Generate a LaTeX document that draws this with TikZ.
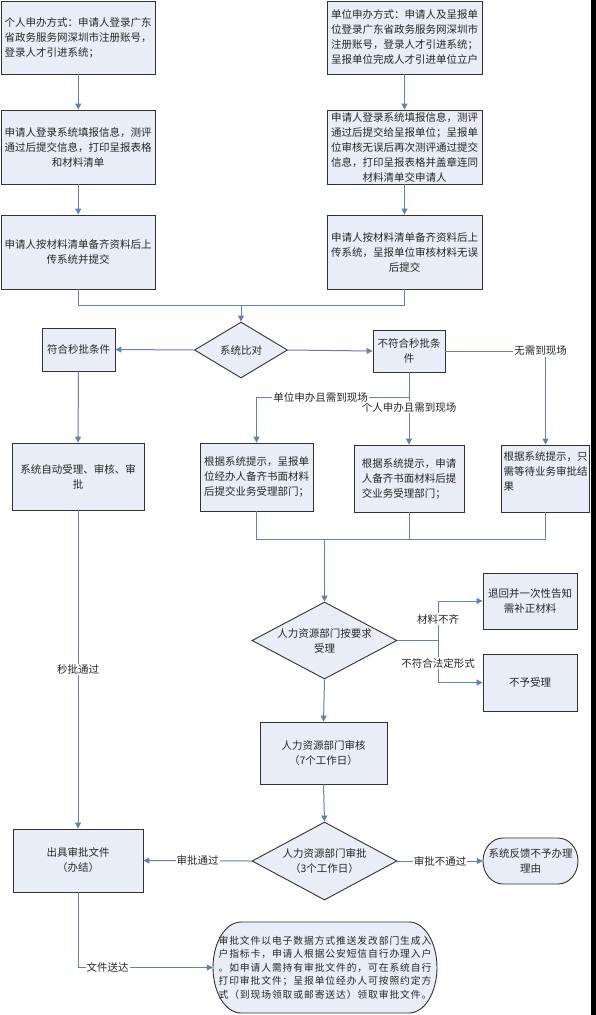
\documentclass[tikz,border=0pt]{standalone}
\usepackage{fontspec}
\setmainfont{Noto Sans CJK SC}
\newfontfamily\cjkwide[LetterSpace=9]{Noto Sans CJK SC}
\usetikzlibrary{arrows.meta,shapes.geometric}
\definecolor{boxfill}{RGB}{233,237,247}
\definecolor{linecol}{RGB}{96,130,176}
\definecolor{bordercol}{RGB}{50,50,50}
\tikzset{
  txt/.style={font=\fontsize{10.5}{15}\selectfont, text=black!85},
  bx/.style 2 args={draw=bordercol, fill=boxfill, line width=0.9pt, inner sep=2pt, txt,
     minimum width=#1, minimum height=#2, align=center},
  dia/.style n args={3}{diamond, draw=bordercol, fill=boxfill, line width=0.9pt, inner sep=0pt, txt,
     minimum width=#1, minimum height=#2, shape aspect=#3, align=center},
  ln/.style={draw=linecol, line width=1pt},
  arr/.style={ln, -{Triangle[width=6pt,length=6pt]}},
  lab/.style={fill=white, inner sep=1pt, txt},
  stad/.style={draw=bordercol, fill=boxfill, line width=0.9pt}
}
\begin{document}
\begin{tikzpicture}[x=1pt,y=-1pt]
\fill[white] (0,0) rectangle (596,1015);
\useasboundingbox (0,0) rectangle (596,1015);
\fill[black] (591,0) rectangle (596,1015);

% left column
\node[bx={153.5pt}{73pt}, align=left] (A1) at (78.25,37.5) {个人申办方式：申请人登录广东\\省政务服务网深圳市注册账号，\\登录人才引进系统；};
\node[bx={153.5pt}{74pt}] (A2) at (78.25,147) {申请人登录系统填报信息，测评\\通过后提交信息，打印呈报表格\\和材料清单};
\node[bx={153.5pt}{74pt}] (A3) at (78.25,252) {申请人按材料清单备齐资料后上\\传系统并提交};

% right column
\node[bx={155pt}{73pt}] (B1) at (404.5,37.5) {单位申办方式：申请人及呈报单\\位登录广东省政务服务网深圳市\\注册账号，登录人才引进系统；\\呈报单位完成人才引进单位立户};
\node[bx={155pt}{74pt}] (B2) at (404.5,147) {申请人登录系统填报信息，测评\\通过后提交给呈报单位；呈报单\\位审核无误后再次测评通过提交\\信息，打印呈报表格并盖章连同\\材料清单交申请人};
\node[bx={155pt}{74pt}] (B3) at (404.5,252) {申请人按材料清单备齐资料后上\\传系统，呈报单位审核材料无误\\后提交};

\coordinate (J0) at (241,305);

\node[dia={93pt}{56pt}{1.66}] (D0) at (241,350) {系统比对};
\node[bx={73pt}{43pt}] (C1) at (78.5,349.5) {符合秒批条件};
\node[bx={72pt}{42pt}] (C2) at (409,351) {不符合秒批条\\件};

\node[bx={132pt}{67pt}] (D1) at (78,476.5) {系统自动受理、审核、审\\批};
\node[bx={113pt}{68pt}, align=left] (C3) at (256.5,477) {根据系统提示，呈报单\\位经办人备齐书面材料\\后提交业务受理部门；};
\node[bx={110pt}{67pt}, align=left] (C4) at (409,478.5) {根据系统提示，申请\\人备齐书面材料后提\\交业务受理部门；};
\node[bx={87pt}{67pt}, align=left] (C5) at (545.5,478.5) {根据系统提示，只\\需等待业务审批结\\果\\\mbox{}};

\coordinate (S1) at (409,397);
\coordinate (M) at (324.5,539);

\node[dia={145pt}{77pt}{1.88}] (F1) at (324.5,640.5) {人力资源部门按要求\\受理};
\node[bx={94pt}{56pt}] (G1) at (530,601) {退回并一次性告知\\需补正材料};
\node[bx={94pt}{57pt}] (G2) at (530,682.5) {不予受理};
\coordinate (Bx) at (438,640.5);

\node[bx={127pt}{62pt}] (H1) at (323.5,753) {人力资源部门审核\\（7个工作日）};
\node[dia={145pt}{78pt}{1.86}] (J1) at (324.5,861) {人力资源部门审批\\（3个工作日）};
\node[bx={130pt}{63pt}] (E1) at (78,860.5) {出具审批文件\\（办结）};

% stadium shapes
\draw[stad] (503,838) -- (558,838) .. controls (569.05,838) and (578,848.3) .. (578,861)
  .. controls (578,873.7) and (569.05,884) .. (558,884) -- (503,884)
  .. controls (491.95,884) and (483,873.7) .. (483,861)
  .. controls (483,848.3) and (491.95,838) .. cycle;
\node[txt, align=center, minimum width=95pt, minimum height=46pt, inner sep=0pt] (K1) at (530.5,861) {系统反馈不予办理\\理由};

\draw[stad] (241,922) -- (409,922) .. controls (424.46,922) and (437,942.37) .. (437,967.5)
  .. controls (437,992.63) and (424.46,1013) .. (409,1013) -- (241,1013)
  .. controls (225.54,1013) and (213,992.63) .. (213,967.5)
  .. controls (213,942.37) and (225.54,922) .. cycle;
\node[font=\cjkwide\fontsize{9.8}{13.5}\selectfont, text=black!85, align=center, minimum width=224pt, minimum height=91pt, inner sep=0pt] (L1) at (325,967.5)
 {审批文件以电子数据方式推送发改部门生成入\\户指标卡，申请人根据公安短信自行办理入户\\。如申请人需持有审批文件的，可在系统自行\\打印审批文件；呈报单位经办人可按照约定方\\式（到现场领取或邮寄送达）领取审批文件。};

% connectors
\draw[arr] (A1.south) -- (A2.north);
\draw[arr] (A2.south) -- (A3.north);
\draw[arr] (B1.south) -- (B2.north);
\draw[arr] (B2.south) -- (B3.north);
\draw[ln] (A3.south) |- (J0);
\draw[ln] (B3.south) |- (J0);
\draw[arr] (J0) -- (D0.north);
\draw[arr] (D0.west) -- (C1.east);
\draw[arr] (D0.east) -- (C2.west);
\draw[arr] (C2.east) -| node[lab, pos=0.5, xshift=-5pt] {无需到现场} (C5.north);
\draw[arr] (C2.south) -- node[lab, pos=0.48] {个人申办且需到现场} (C4.north);
\draw[arr] (S1) -| node[lab, pos=0.29] {单位申办且需到现场} (C3.north);
\draw[arr] (C1.south) -- (D1.north);

\draw[ln] (C3.south) |- (M -| C5.south) -- (C5.south);
\draw[ln] (C4.south) -- (C4.south |- M);
\draw[arr, line width=1.5pt] (M) -- (F1.north);

\draw[ln] (F1.east) -- (Bx);
\draw[arr] (Bx) |- node[lab, pos=0.27] {材料不齐} (G1.west);
\draw[arr] (Bx) |- node[lab, pos=0.27] {不符合法定形式} (G2.west);
\draw[arr] (F1.south) -- (H1.north);
\draw[arr] (H1.south) -- (J1.north);
\draw[arr] (J1.west) -- node[lab] {审批通过} (E1.east);
\draw[arr] (J1.east) -- node[lab] {审批不通过} (K1.west);
\draw[arr] (D1.south) -- node[lab, pos=0.5] {秒批通过} (E1.north);
\draw[arr] (E1.south) |- node[lab, pos=0.61] {文件送达} (L1.west);
\end{tikzpicture}
\end{document}
